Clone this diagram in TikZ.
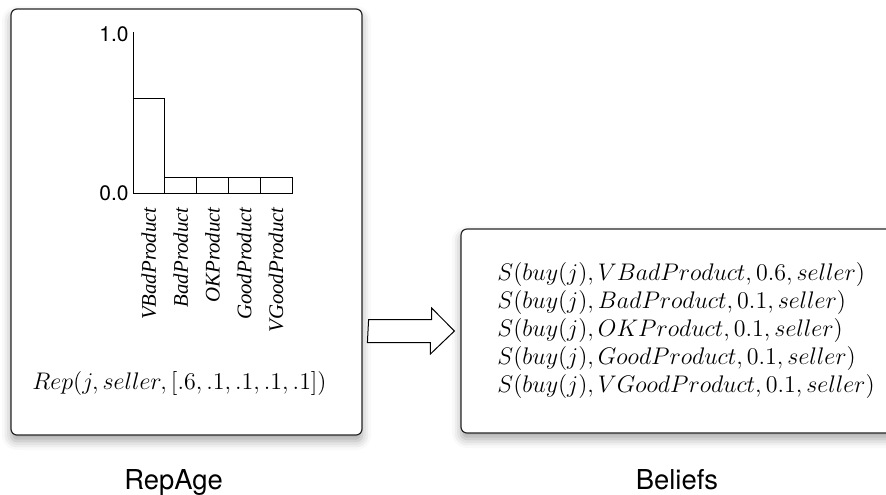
\documentclass[tikz,border=0pt]{standalone}
\usepackage{fontspec}
\newfontfamily\helv{TeX Gyre Heros}
\newfontfamily\tnrfont{Liberation Serif}
\usetikzlibrary{shadows.blur,calc}

\begin{document}
\begin{tikzpicture}[x=0.5pt, y=-0.5pt]
    % Estilos
    \tikzset{
        panel/.style={draw=black!85, line width=0.6pt, fill=white, rounded corners=3pt,
            blur shadow={shadow xshift=0pt, shadow yshift=-3pt, shadow blur radius=4.5pt, shadow opacity=35}},
        bar/.style={draw=black, line width=0.5pt, fill=white},
        prodlabel/.style={rotate=90, anchor=east, inner sep=0pt, font=\tnrfont\itshape\fontsize{10.4}{12}\selectfont},
        axislabel/.style={anchor=east, inner sep=1pt, font=\helv\fontsize{10.5}{12}\selectfont},
        caption/.style={anchor=base, inner sep=0pt, font=\helv\fontsize{13.7}{16}\selectfont},
        blockarrow/.style={draw=black, line width=0.5pt, fill=white, line join=miter}
    }
    \useasboundingbox (0,0) rectangle (886,494);
    \clip (0,0) rectangle (886,494);

    % --- Cajas ---
    \node[panel, minimum width=175.5pt, minimum height=213pt] (repage) at (186.5,222) {};
    \node[panel, minimum width=222pt, minimum height=102pt] (beliefs) at (683,331) {};

    % --- Histograma de reputacion ---
    \draw[line width=0.5pt] (133,32) -- (133,193);
    \node[axislabel] (top) at (131,34) {1.0};
    \node[axislabel] (bottom) at (131,193) {0.0};
    \foreach \name/\val [count=\i from 0] in
        {VBadProduct/0.6, BadProduct/0.1, OKProduct/0.1, GoodProduct/0.1, VGoodProduct/0.1} {
        \draw[bar] (133+\i*31.8,193) rectangle ++(31.8,-157*\val);
        \node[prodlabel] (lab\i) at (148.9+\i*31.8,207) {\name};
    }

    % Imagen de reputacion
    \node[anchor=west, inner sep=0pt, font=\fontsize{12.2}{14}\selectfont] (rep) at (32,383)
        {$Rep(j, seller, [.6,.1,.1,.1,.1])$};

    % --- Creencias ---
    \node[anchor=west, align=left, inner sep=0pt, font=\fontsize{12}{14}\selectfont] (facts) at (497,330)
        {$S(buy(j), VBadProduct, 0.6, seller)$\\
         $S(buy(j), BadProduct, 0.1, seller)$\\
         $S(buy(j), OKProduct, 0.1, seller)$\\
         $S(buy(j), GoodProduct, 0.1, seller)$\\
         $S(buy(j), VGoodProduct, 0.1, seller)$};

    % --- Flecha hueca ---
    \coordinate (tip) at ($(beliefs.west)+(-6,0)$);
    \coordinate (tail) at ($(repage.east |- tip)+(6,0)$);
    \draw[blockarrow] (tail) ++(0,-11.5) -- ++(63,0) -- ++(0,-11.5) -- (tip)
        -- ++(-24,23) -- ++(0,-11.5) -- ++(-63,0) -- cycle;

    % --- Titulos ---
    \node[caption] (repname) at (173.5,489) {RepAge};
    \node[caption] (belname) at (677,489) {Beliefs};
\end{tikzpicture}
\end{document}
